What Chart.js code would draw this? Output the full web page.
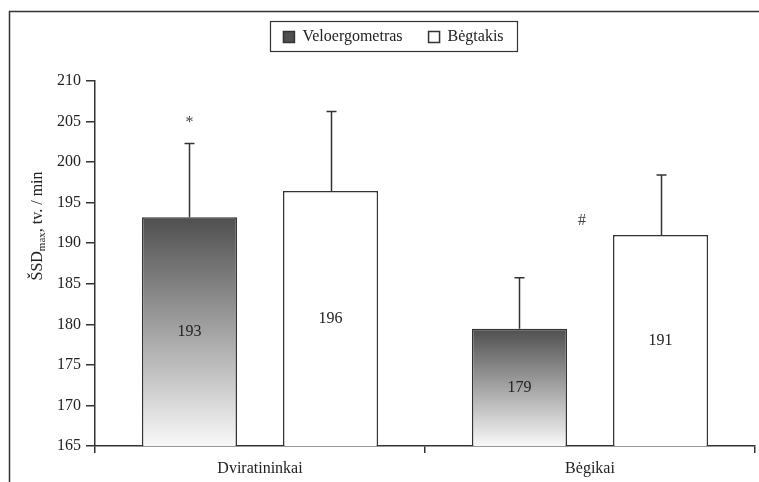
<!DOCTYPE html>
<html lang="lt">
<head>
  <meta charset="UTF-8" />
  <title>ŠSDmax - Dviratininkai ir Bėgikai</title>
  <script src="https://cdn.jsdelivr.net/npm/chart.js"></script>
  <style>
    body {
      margin: 0;
      background: #fff;
    }

    .wrap {
      position: relative;
      width: 759px;
      height: 482px;
    }
  </style>
</head>
<body>
  <div class="wrap">
    <canvas id="hrChart"></canvas>
  </div>

  <script>
    // values
    const categories = ['Dviratininkai', 'Bėgikai'];
    const seriesNames = ['Veloergometras', 'Bėgtakis'];
    const veloValues = [193.2, 179.45];
    const begtValues = [196.45, 191.0];
    const veloSD = [9.1, 6.3];
    const begtSD = [9.8, 7.4];
    const yTicks = [165, 170, 175, 180, 185, 190, 195, 200, 205, 210];
    // significance marks: '*' over the first bar, '#' over the runners group
    const markTexts = ['*', '#'];
    const markValues = [204.9, 192.8];

    const FONT = '"Liberation Serif", "Times New Roman", serif';
    const INK = '#222';
    const LINE = '#333';

    function veloFill(context) {
      const chart = context.chart;
      const area = chart.chartArea;
      if (!area) return '#888';
      let top, bottom;
      if (context.type === 'data') {
        top = chart.scales.y.getPixelForValue(context.raw);
        bottom = area.bottom;
      } else {
        // legend swatch
        top = 31;
        bottom = 43;
      }
      const grad = chart.ctx.createLinearGradient(0, top, 0, bottom);
      grad.addColorStop(0, '#4f4f4f');
      grad.addColorStop(1, '#f8f8f8');
      return grad;
    }

    const sdSets = [veloSD, begtSD];

    // outer frame + legend frame + y title
    const decorations = {
      id: 'decorations',
      beforeDraw(chart) {
        const c = chart.ctx;
        c.save();
        c.strokeStyle = LINE;
        c.lineWidth = 1.5;
        c.beginPath();
        c.moveTo(9.5, chart.height);
        c.lineTo(9.5, 11.5);
        c.lineTo(chart.width, 11.5);
        c.stroke();
        c.restore();
      },
      afterDraw(chart) {
        const c = chart.ctx;
        const boxes = chart.legend.legendHitBoxes;
        if (boxes && boxes.length) {
          const left = Math.min(...boxes.map(b => b.left)) - 13;
          const right = Math.max(...boxes.map(b => b.left + b.width)) + 14;
          const top = boxes[0].top - 8;
          c.save();
          c.strokeStyle = LINE;
          c.lineWidth = 1.2;
          c.strokeRect(Math.round(left) + 0.5, Math.round(top) + 0.5, Math.round(right - left), 30);
          c.restore();
        }

        // y axis title with subscript
        c.save();
        c.translate(36, 226);
        c.rotate(-Math.PI / 2);
        c.fillStyle = INK;
        c.textBaseline = 'alphabetic';
        const big = '16px ' + FONT;
        const small = '11px ' + FONT;
        const parts = [['ŠSD', big, 0], ['max', small, 3], [', tv. / min', big, 0]];
        let total = 0;
        parts.forEach(p => { c.font = p[1]; total += c.measureText(p[0]).width; });
        let x = -total / 2;
        parts.forEach(p => {
          c.font = p[1];
          c.fillText(p[0], x, 6 + p[2]);
          x += c.measureText(p[0]).width;
        });
        c.restore();
      }
    };

    // error bars, value labels, marks
    const barExtras = {
      id: 'barExtras',
      afterDatasetsDraw(chart) {
        const c = chart.ctx;
        const y = chart.scales.y;
        const xs = chart.scales.x;
        const base = chart.chartArea.bottom;
        c.save();

        chart.data.datasets.forEach((ds, i) => {
          chart.getDatasetMeta(i).data.forEach((bar, j) => {
            const topY = y.getPixelForValue(ds.data[j] + sdSets[i][j]);
            const x = Math.round(bar.x) + 0.5;
            c.strokeStyle = LINE;
            c.lineWidth = 1.5;
            c.beginPath();
            c.moveTo(x, bar.y);
            c.lineTo(x, topY);
            c.moveTo(x - 5, topY);
            c.lineTo(x + 5, topY);
            c.stroke();

            c.fillStyle = INK;
            c.font = '16px ' + FONT;
            c.textAlign = 'center';
            c.textBaseline = 'middle';
            c.fillText(Math.round(ds.data[j]), bar.x, (bar.y + base) / 2);
          });
        });

        c.fillStyle = '#444';
        c.font = '16px ' + FONT;
        c.textAlign = 'center';
        c.textBaseline = 'middle';
        markTexts.forEach((t, k) => {
          const x = k === 0 ? chart.getDatasetMeta(0).data[0].x : xs.getPixelForValue(k) - 8;
          c.fillText(t, x, y.getPixelForValue(markValues[k]));
        });
        c.restore();
      }
    };

    const ctx = document.getElementById('hrChart').getContext('2d');

    new Chart(ctx, {
      type: 'bar',
      data: {
        labels: categories,
        datasets: [
          {
            label: seriesNames[0],
            data: veloValues,
            backgroundColor: veloFill,
            borderColor: LINE,
            borderWidth: 1.5
          },
          {
            label: seriesNames[1],
            data: begtValues,
            backgroundColor: '#ffffff',
            borderColor: LINE,
            borderWidth: 1.5
          }
        ]
      },
      options: {
        responsive: true,
        maintainAspectRatio: false,
        animation: false,
        events: [],
        datasets: {
          bar: {
            barPercentage: 0.674,
            categoryPercentage: 0.855
          }
        },
        layout: {
          padding: { top: 3, left: 32, right: 4, bottom: 0 }
        },
        plugins: {
          tooltip: { enabled: false },
          legend: {
            position: 'top',
            labels: {
              boxWidth: 11,
              boxHeight: 11,
              padding: 26,
              color: INK,
              font: { family: FONT, size: 16 }
            }
          }
        },
        scales: {
          // empty top axis, only used as a gap between legend and plot
          xSpacer: {
            type: 'category',
            axis: 'x',
            position: 'top',
            afterFit(scale) { scale.height = 26; },
            border: { display: false },
            grid: { display: false },
            ticks: { display: false }
          },
          x: {
            afterFit(scale) { scale.height = 36; },
            border: { color: LINE, width: 1.5 },
            grid: {
              offset: true,
              drawOnChartArea: false,
              tickLength: 7,
              color: LINE,
              lineWidth: 1.5
            },
            ticks: {
              padding: 6,
              color: INK,
              font: { family: FONT, size: 16 }
            }
          },
          y: {
            min: 165,
            max: 210,
            afterFit(scale) { scale.width = 63; },
            afterBuildTicks(scale) {
              scale.ticks = yTicks.map(v => ({ value: v }));
            },
            border: { color: LINE, width: 1.5 },
            grid: {
              drawOnChartArea: false,
              tickLength: 9,
              color: LINE,
              lineWidth: 1.5
            },
            ticks: {
              padding: 5,
              color: INK,
              font: { family: FONT, size: 16 }
            }
          }
        }
      },
      plugins: [decorations, barExtras]
    });
  </script>
</body>
</html>
